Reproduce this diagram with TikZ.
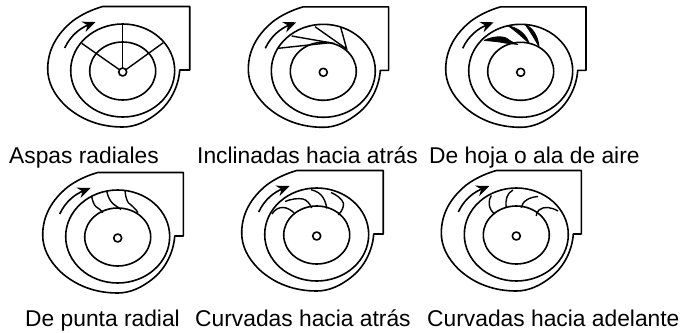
\documentclass[tikz,border=0pt]{standalone}
\usepackage{fontspec}
\usetikzlibrary{arrows.meta}
\setmainfont{Liberation Sans}
\tikzset{
  fanline/.style={black, line width=1.6pt, line join=round},
  bladeline/.style={black, line width=1.4pt},
  airfoil/.style={black, fill=black, line width=0.8pt, line join=round},
  fanlabel/.style={anchor=base west, inner sep=0pt, font=\fontsize{22.8}{26}\selectfont},
}
\begin{document}
\begin{tikzpicture}[x=1pt, y=-1pt]
     \useasboundingbox (0,0) rectangle (688,332);
     \foreach \cx/\cy/\wd in {122.7/72/67, 323.3/72.3/65.3, 520.7/72.3/65.3, 117.7/238/65.7, 316.7/236/66.5, 516.3/236/65}{
       \begin{scope}[shift={(\cx,\cy)}]
         \draw [fanline] (-20,-65.5) -- (\wd,-65.5) -- (\wd,-2) -- (57,-2)
            .. controls (56,14) and (48,30) .. (36,40)
            .. controls (24,50) and (12,55) .. (0,55)
            .. controls (-22,55) and (-42,48) .. (-58,33)
            .. controls (-69,22) and (-75,10) .. (-75,-3)
            .. controls (-75,-22) and (-66,-38) .. (-50,-51)
            .. controls (-42,-57) and (-32,-62) .. (-20,-65.5);
         \draw [fanline] (0,-1.5) ellipse (52 and 46.5);
         \draw [fanline] (0,-1) ellipse (33 and 29);
         \draw [fanline, -{Stealth[length=13pt, width=11pt]}] (-58,-24)
            .. controls (-52,-37) and (-42,-44) .. (-27,-50);
       \end{scope}
     }
     \draw [bladeline] (122.7,72) -- (122.7,25);
     \draw [bladeline] (122.7,72) -- (81.7,43.3);
     \draw [bladeline] (122.7,72) -- (163.3,42.7);
     \draw [bladeline] (278.3,48.3) -- (330,42.7) -- (291.7,36);
     \draw [bladeline] (315,26.7) -- (346.7,49) -- (340.7,27.3);
     \draw [airfoil] (484,40.5) .. controls (493,36) and (503,36) .. (507,38.5)
        .. controls (510,41) and (514,43) .. (518,44.5) -- (505,43) .. controls (498,41.5) and (491,41) .. (484,40.5);
     \draw [airfoil] (508.3,26) .. controls (516,27) and (526,33) .. (529,43)
        .. controls (523,38) and (516,31) .. (508.3,26);
     \draw [airfoil] (525,24.3) .. controls (533,28) and (538,36) .. (539,46.5)
        .. controls (534,38) and (530,31) .. (525,24.3);
     \draw [bladeline] (91.7,196.5) .. controls (92.5,201) and (94,205) .. (96,206.7) .. controls (98,208) and (101,210) .. (103,212.5);
     \draw [bladeline] (106.7,191) .. controls (108,197) and (110,201) .. (113.3,204) .. controls (116,206) and (119,208) .. (121,209.5);
     \draw [bladeline] (125,190.5) .. controls (125.5,195) and (126,199) .. (128.3,202.7) .. controls (131,205) and (135,208) .. (138,212.5);
     \draw [bladeline] (272,214) .. controls (275,209) and (279,207.5) .. (283,207.5) .. controls (287,207.5) and (291,210) .. (294,212.8);
     \draw [bladeline] (285,201.5) .. controls (291,199) and (298,198) .. (303,199) .. controls (307,200) and (310,204) .. (311.7,208);
     \draw [bladeline] (311,189.7) .. controls (317,191) and (321,194) .. (323.3,198) .. controls (325,201) and (326.5,205) .. (326.7,208.5);
     \draw [bladeline] (331,192.5) .. controls (337,195) and (342,199) .. (343.3,203) .. controls (344,207) and (342,211) .. (338.3,215);
     \draw [bladeline] (491.3,195.5) .. controls (488,200) and (488,209) .. (494.7,214);
     \draw [bladeline] (513,190) .. controls (507,193) and (505,200) .. (506.3,207.7);
     \draw [bladeline] (538,196.5) .. controls (530,197) and (522,201) .. (521.3,207.7);
     \draw [bladeline] (558,211) .. controls (551,207) and (544,206) .. (539,210) .. controls (537,212) and (536,214) .. (536.3,216);
     \foreach \cx/\cy in {122.7/72, 323.3/72.3, 520.7/72.3, 117.7/238, 316.7/236, 516.3/236}{
       \draw [fanline, fill=white] (\cx,\cy) circle (4);
     }
     \node [fanlabel] (aspas) at (9,163) {Aspas radiales};
     \node [fanlabel] (inclinadas) at (197,163) {Inclinadas hacia atrás};
     \node [fanlabel] (hoja) at (429,163) {De hoja o ala de aire};
     \node [fanlabel] (punta) at (25,326) {De punta radial};
     \node [fanlabel] (atras) at (195,326) {Curvadas hacia atrás};
     \node [fanlabel] (adelante) at (427,326) {Curvadas hacia adelante};
\end{tikzpicture}
\end{document}
